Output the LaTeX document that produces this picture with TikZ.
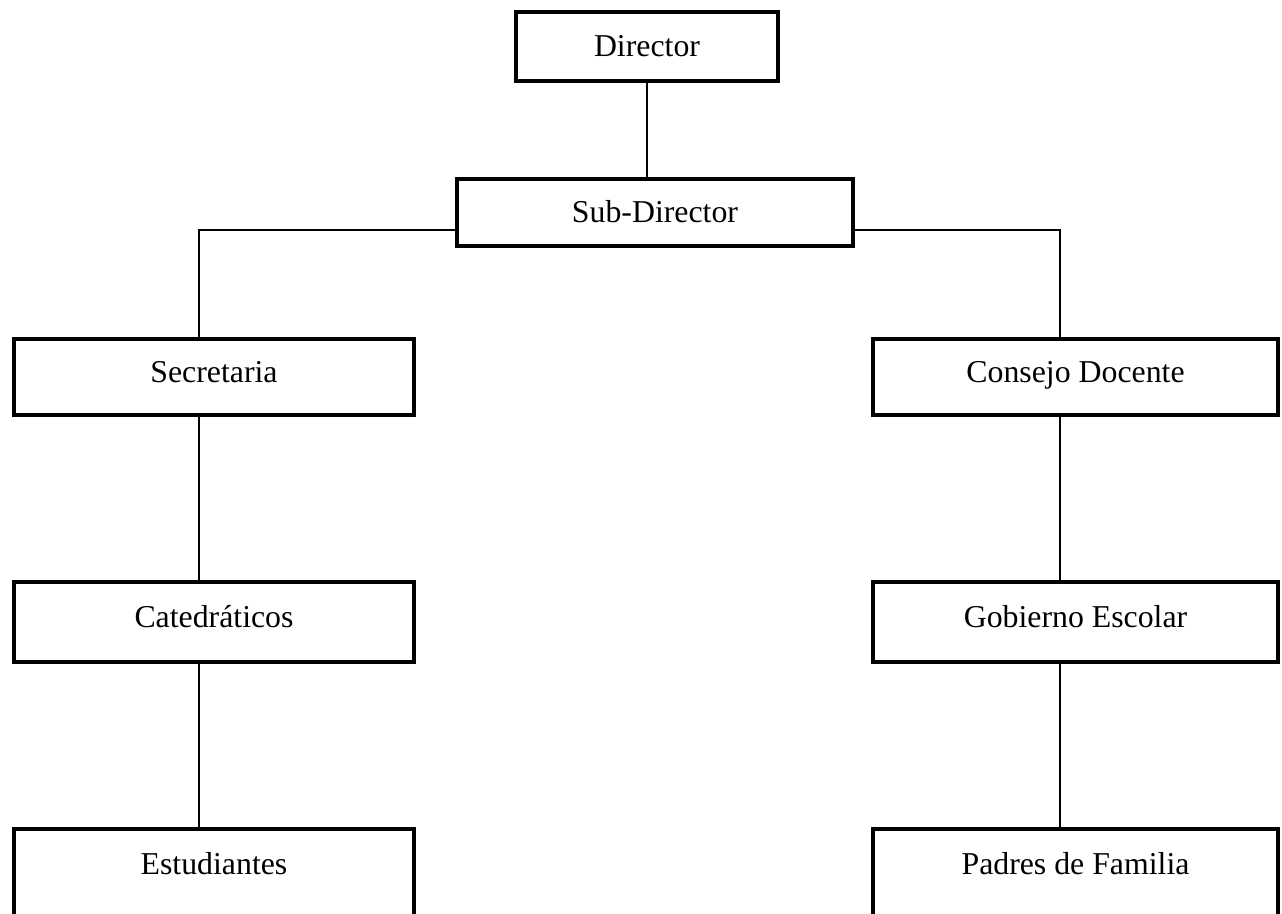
\documentclass[tikz,border=0pt]{standalone}
\usepackage{fontspec}
\setmainfont{Liberation Serif}
\usetikzlibrary{calc,positioning}
\tikzset{
  caja/.style={
    rectangle,
    draw=black, line width=0.09cm,
    minimum width=8cm,
    minimum height=1.52cm,
    text height=0.45cm,
    text depth=0.25cm,
    inner sep=0pt,
    font=\fontsize{18.1}{21}\selectfont},
  cajacentro/.style={caja, text depth=0.05cm},
  cajabaja/.style={caja, text depth=0.45cm, minimum height=1.8cm},
  linea/.style={draw, line width=0.03cm},
}

\begin{document}
\begin{tikzpicture}
  \useasboundingbox (0,0) rectangle (25.64,-18.26);
  % direccion
  \node[cajacentro, minimum width=5.24cm, minimum height=1.38cm] (dir) at (12.94,-0.93) {Director};
  \node[cajacentro, minimum width=7.92cm, minimum height=1.34cm] (sub) at (13.10,-4.25) {Sub-Director};
  % rama izquierda
  \node[caja] (sec) at (4.28,-7.54) {Secretaria};
  \node[caja, minimum height=1.6cm] (cat) at (4.28,-12.44) {Catedráticos};
  \node[cajabaja] (est) at (4.28,-17.48) {Estudiantes};
  % rama derecha
  \node[caja, minimum width=8.1cm] (con) at (21.51,-7.54) {Consejo Docente};
  \node[caja, minimum width=8.1cm, minimum height=1.6cm] (gob) at (21.51,-12.44) {Gobierno Escolar};
  \node[cajabaja, minimum width=8.1cm] (pad) at (21.51,-17.48) {Padres de Familia};
  %% puntos de quiebre de las lineas
  \coordinate (izq) at (3.98,-4.60);
  \coordinate (der) at (21.20,-4.60);
  % conexiones
  \draw[linea] (dir.south) -- (dir.south |- sub.north);
  \draw[linea] (sub.west |- izq) -- (izq) -- (izq |- sec.north);
  \draw[linea] (sub.east |- der) -- (der) -- (der |- con.north);
  \draw[linea] (izq |- sec.south) -- (izq |- cat.north);
  \draw[linea] (izq |- cat.south) -- (izq |- est.north);
  \draw[linea] (der |- con.south) -- (der |- gob.north);
  \draw[linea] (der |- gob.south) -- (der |- pad.north);
\end{tikzpicture}
\end{document}
